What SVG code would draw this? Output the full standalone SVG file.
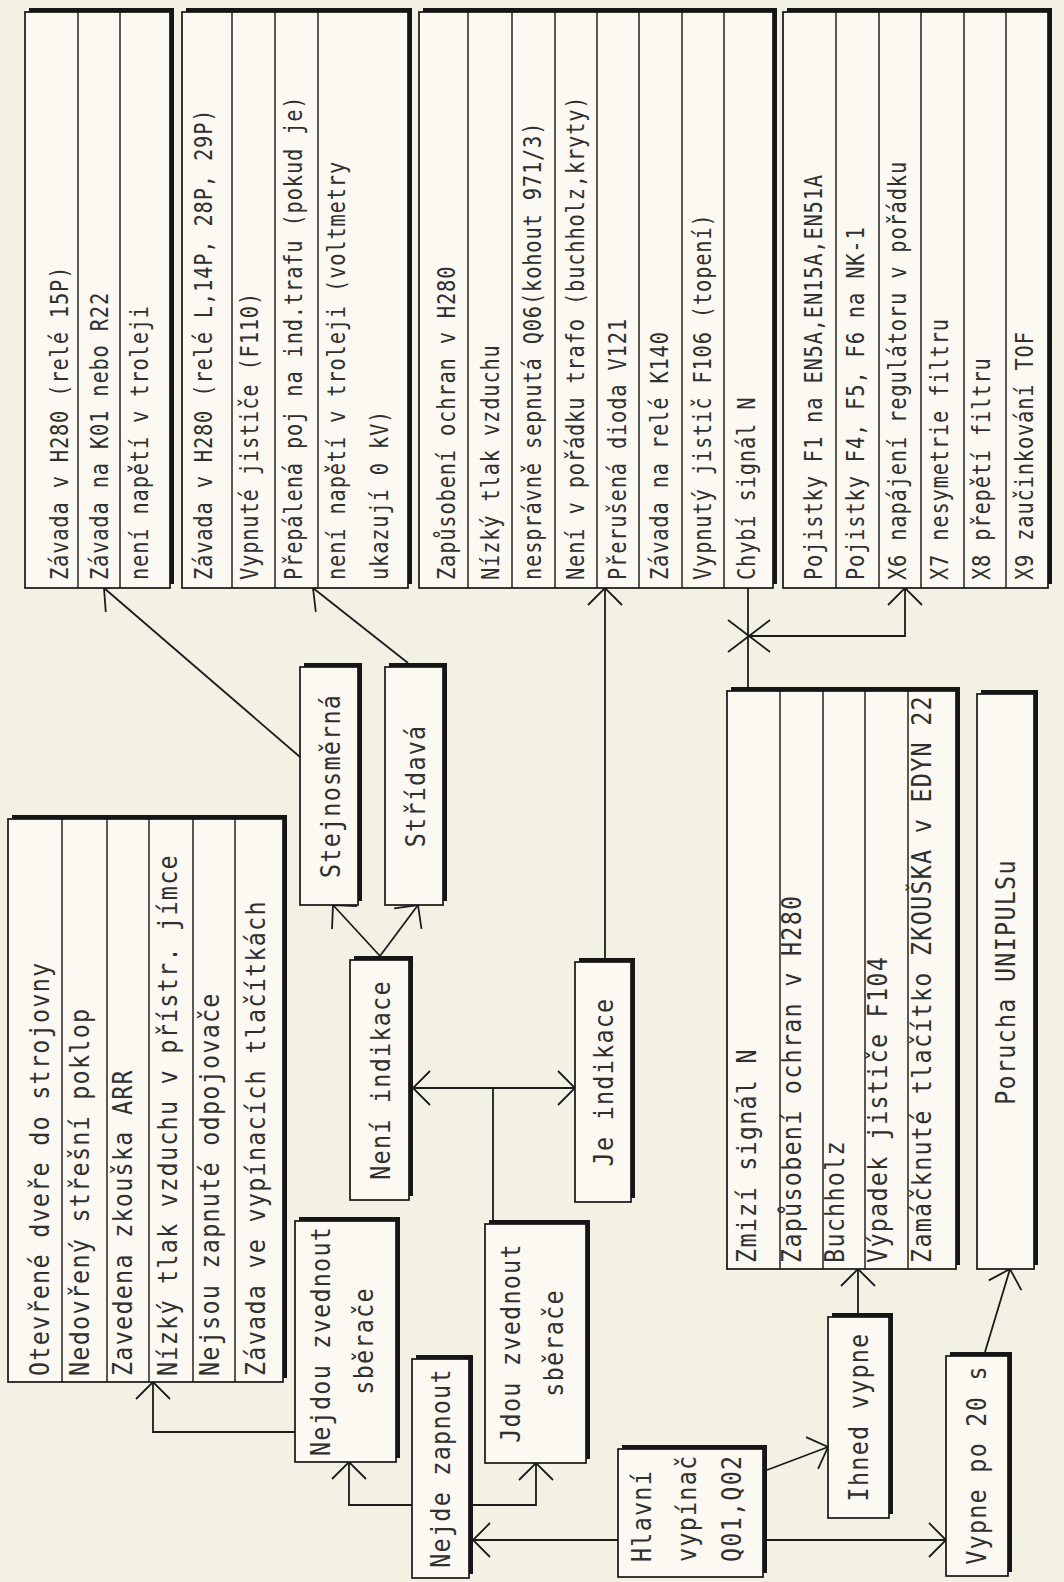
<svg xmlns="http://www.w3.org/2000/svg" width="1064" height="1582" viewBox="0 0 1064 1582">
<style>
.sh{fill:#161616}
.bx{fill:#fbf9f1;stroke:#161616;stroke-width:1.7}
.dv{stroke:#161616;stroke-width:1.4}
.t{font-family:"DejaVu Sans Mono","Liberation Mono",monospace;font-size:26px;letter-spacing:1.41px;fill:#303030}
.ts{font-size:24px;letter-spacing:0.96px}
.m{text-anchor:middle}
.c{stroke:#1c1c1c;stroke-width:1.8;fill:none}
</style>
<defs>
<marker id="a" viewBox="-20 -20 22 40" refX="0" refY="0" markerWidth="22" markerHeight="40" markerUnits="userSpaceOnUse" orient="auto-start-reverse">
<path d="M-17,-17 L0,0 L-17,17" fill="none" stroke="#1c1c1c" stroke-width="1.8"/>
</marker>
</defs>
<rect width="1064" height="1582" fill="#f3f0e4"/>

<g id="connectors">
<path class="c" d="M300,757 L104,588" marker-end="url(#a)"/>
<path class="c" d="M408,663 L313,588" marker-end="url(#a)"/>
<path class="c" d="M605,958 L605,588" marker-end="url(#a)"/>
<path class="c" d="M748,687 L748,588"/>
<path class="c" d="M748,636 L905,636 L905,588" marker-end="url(#a)"/>
<path class="c" d="M728,620 L770,652 M728,652 L770,620"/>
<path class="c" d="M380,956 L333,905" marker-end="url(#a)"/>
<path class="c" d="M380,956 L418,905" marker-end="url(#a)"/>
<path class="c" d="M413,1088 L575,1088" marker-start="url(#a)" marker-end="url(#a)"/>
<path class="c" d="M493,1088 L493,1220"/>
<path class="c" d="M412,1505 L349,1505 L349,1462" marker-end="url(#a)"/>
<path class="c" d="M473,1505 L536,1505 L536,1463" marker-end="url(#a)"/>
<path class="c" d="M295,1432 L153,1432 L153,1382" marker-end="url(#a)"/>
<path class="c" d="M618,1540 L473,1540" marker-end="url(#a)"/>
<path class="c" d="M767,1540 L946,1540" marker-end="url(#a)"/>
<path class="c" d="M767,1470 L828,1447" marker-end="url(#a)"/>
<path class="c" d="M858,1313 L858,1269" marker-end="url(#a)"/>
<path class="c" d="M985,1352 L1010,1269" marker-end="url(#a)"/>
</g>

<g id="t1">
<rect class="sh" x="29" y="8" width="145" height="576"/>
<rect class="bx" x="25" y="12" width="145" height="576"/>
<path class="dv" d="M78,12 V588 M120,12 V588"/>
<g class="t ts" transform="rotate(-90) scale(0.85,1)">
<text x="-682.4" y="68">Závada v H280 (relé 15P)</text>
<text x="-682.4" y="108">Závada na K01 nebo R22</text>
<text x="-682.4" y="148">není napětí v troleji</text>
</g>
</g>

<g id="t2">
<rect class="sh" x="186" y="8" width="226" height="576"/>
<rect class="bx" x="182" y="12" width="226" height="576"/>
<path class="dv" d="M232,12 V588 M275,12 V588 M318,12 V588"/>
<g class="t ts" transform="rotate(-90) scale(0.85,1)">
<text x="-682.4" y="212">Závada v H280 (relé L,14P, 28P, 29P)</text>
<text x="-682.4" y="258">Vypnuté jističe (F110)</text>
<text x="-682.4" y="302">Přepálená poj na ind.trafu (pokud je)</text>
<text x="-682.4" y="345">není napětí v troleji (voltmetry</text>
<text x="-682.4" y="388">ukazují 0 kV)</text>
</g>
</g>

<g id="t3">
<rect class="sh" x="423" y="8" width="354" height="576"/>
<rect class="bx" x="419" y="12" width="354" height="576"/>
<path class="dv" d="M468,12 V588 M512,12 V588 M555,12 V588 M597,12 V588 M639,12 V588 M682,12 V588 M724,12 V588"/>
<g class="t ts" transform="rotate(-90) scale(0.85,1)">
<text x="-682.4" y="455">Zapůsobení ochran v H280</text>
<text x="-682.4" y="499">Nízký tlak vzduchu</text>
<text x="-682.4" y="541">nesprávně sepnutá Q06(kohout 971/3)</text>
<text x="-682.4" y="584">Není v pořádku trafo (buchholz,kryty)</text>
<text x="-682.4" y="626">Přerušená dioda V121</text>
<text x="-682.4" y="668">Závada na relé K140</text>
<text x="-682.4" y="711">Vypnutý jistič F106 (topení)</text>
<text x="-682.4" y="755">Chybí signál N</text>
</g>
</g>

<g id="t4">
<rect class="sh" x="787" y="8" width="265" height="576"/>
<rect class="bx" x="783" y="12" width="265" height="576"/>
<path class="dv" d="M836,12 V588 M879,12 V588 M921,12 V588 M964,12 V588 M1006,12 V588"/>
<g class="t ts" transform="rotate(-90) scale(0.85,1)">
<text x="-682.4" y="822">Pojistky F1 na EN5A,EN15A,EN51A</text>
<text x="-682.4" y="864">Pojistky F4, F5, F6 na NK-1</text>
<text x="-682.4" y="906">X6 napájení regulátoru v pořádku</text>
<text x="-682.4" y="948">X7 nesymetrie filtru</text>
<text x="-682.4" y="990">X8 přepětí filtru</text>
<text x="-682.4" y="1033">X9 zaučinkování TOF</text>
</g>
</g>

<g id="t5">
<rect class="sh" x="12" y="815" width="275" height="563"/>
<rect class="bx" x="8" y="819" width="275" height="563"/>
<path class="dv" d="M62,819 V1382 M107,819 V1382 M149,819 V1382 M193,819 V1382 M235,819 V1382"/>
<g class="t" transform="rotate(-90) scale(0.9,1)">
<text x="-1528.9" y="49">Otevřené dveře do strojovny</text>
<text x="-1528.9" y="89">Nedovřený střešní poklop</text>
<text x="-1528.9" y="132">Zavedena zkouška ARR</text>
<text x="-1528.9" y="177">Nízký tlak vzduchu v přístr. jímce</text>
<text x="-1528.9" y="219">Nejsou zapnuté odpojovače</text>
<text x="-1528.9" y="265">Závada ve vypínacích tlačítkách</text>
</g>
</g>

<g id="stejnosmerna">
<rect class="sh" x="304" y="663" width="58" height="238"/>
<rect class="bx" x="300" y="667" width="58" height="238"/>
<text class="t m" transform="rotate(-90) scale(0.9,1)" x="-873.3" y="340">Stejnosměrná</text>
</g>

<g id="stridava">
<rect class="sh" x="389" y="663" width="58" height="238"/>
<rect class="bx" x="385" y="667" width="58" height="238"/>
<text class="t m" transform="rotate(-90) scale(0.9,1)" x="-873.3" y="425">Střídavá</text>
</g>

<g id="neni-indikace">
<rect class="sh" x="354" y="956" width="59" height="240"/>
<rect class="bx" x="350" y="960" width="59" height="240"/>
<text class="t m" transform="rotate(-90) scale(0.9,1)" x="-1200" y="390">Není indikace</text>
</g>

<g id="je-indikace">
<rect class="sh" x="579" y="958" width="56" height="240"/>
<rect class="bx" x="575" y="962" width="56" height="240"/>
<text class="t m" transform="rotate(-90) scale(0.9,1)" x="-1202.2" y="613">Je indikace</text>
</g>

<g id="nejdou">
<rect class="sh" x="299" y="1217" width="101" height="241"/>
<rect class="bx" x="295" y="1221" width="101" height="241"/>
<g class="t m" transform="rotate(-90) scale(0.9,1)">
<text x="-1490" y="330">Nejdou zvednout</text>
<text x="-1490" y="373">sběrače</text>
</g>
</g>

<g id="jdou">
<rect class="sh" x="489" y="1220" width="101" height="239"/>
<rect class="bx" x="485" y="1224" width="101" height="239"/>
<g class="t m" transform="rotate(-90) scale(0.9,1)">
<text x="-1492.2" y="520">Jdou zvednout</text>
<text x="-1492.2" y="563">sběrače</text>
</g>
</g>

<g id="nejde-zapnout">
<rect class="sh" x="416" y="1355" width="57" height="219"/>
<rect class="bx" x="412" y="1359" width="57" height="219"/>
<text class="t m" transform="rotate(-90) scale(0.9,1)" x="-1631.1" y="450">Nejde zapnout</text>
</g>

<g id="hlavni">
<rect class="sh" x="622" y="1445" width="145" height="128"/>
<rect class="bx" x="618" y="1449" width="145" height="128"/>
<g class="t" transform="rotate(-90) scale(0.9,1)">
<text x="-1735.6" y="651">Hlavní</text>
<text x="-1735.6" y="696">vypínač</text>
<text x="-1735.6" y="741">Q01,Q02</text>
</g>
</g>

<g id="ihned">
<rect class="sh" x="832" y="1313" width="61" height="201"/>
<rect class="bx" x="828" y="1317" width="61" height="201"/>
<text class="t m" transform="rotate(-90) scale(0.9,1)" x="-1574.4" y="868">Ihned vypne</text>
</g>

<g id="vypne20">
<rect class="sh" x="950" y="1352" width="62" height="220"/>
<rect class="bx" x="946" y="1356" width="62" height="220"/>
<text class="t m" transform="rotate(-90) scale(0.9,1)" x="-1627.8" y="986">Vypne po 20 s</text>
</g>

<g id="t6">
<rect class="sh" x="731" y="687" width="229" height="578"/>
<rect class="bx" x="727" y="691" width="229" height="578"/>
<path class="dv" d="M780,691 V1269 M823,691 V1269 M865,691 V1269 M908,691 V1269"/>
<g class="t" transform="rotate(-90) scale(0.9,1)">
<text x="-1403.3" y="756">Zmizí signál N</text>
<text x="-1403.3" y="801">Zapůsobení ochran v H280</text>
<text x="-1403.3" y="844">Buchholz</text>
<text x="-1403.3" y="887">Výpadek jističe F104</text>
<text x="-1403.3" y="931">Zamáčknuté tlačítko ZKOUŠKA v EDYN 22</text>
</g>
</g>

<g id="porucha">
<rect class="sh" x="981" y="690" width="57" height="575"/>
<rect class="bx" x="977" y="694" width="57" height="575"/>
<text class="t m" transform="rotate(-90) scale(0.9,1)" x="-1091.1" y="1015">Porucha UNIPULSu</text>
</g>
</svg>
